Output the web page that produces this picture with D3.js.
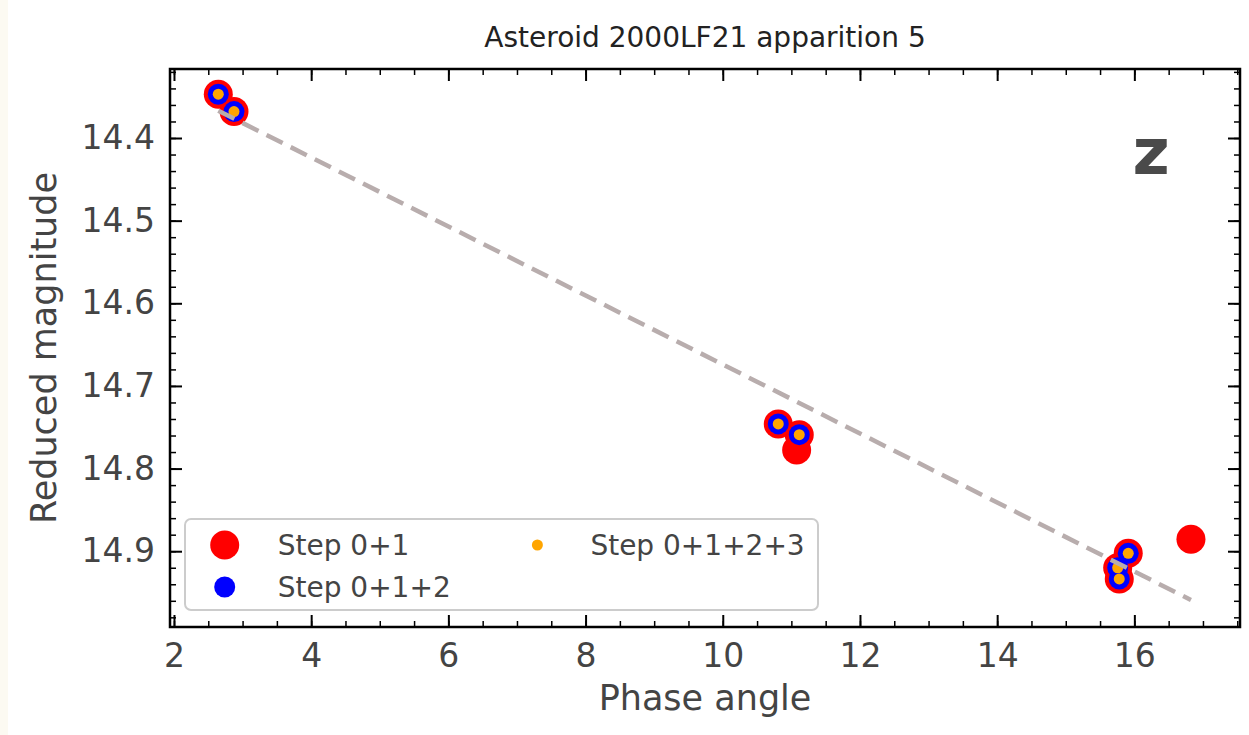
<!DOCTYPE html>
<html>
<head>
<meta charset="utf-8">
<script src="https://cdn.jsdelivr.net/npm/d3@7"></script>
<style>
  body { margin: 0; background: #fcfaf2; }
  text { font-family: "DejaVu Sans", sans-serif; }
</style>
</head>
<body>
<div id="viz"></div>
<script>
// data
var step01Phase = [2.646, 2.875, 10.809, 11.115, 11.077, 16.825, 15.911, 15.757, 15.780];
var step01Mag = [14.347, 14.368, 14.746, 14.759, 14.7775, 14.8856, 14.9026, 14.920, 14.9336];

var step012Phase = [2.646, 2.875, 10.809, 11.115, 15.911, 15.757, 15.780];
var step012Mag = [14.347, 14.368, 14.746, 14.759, 14.9026, 14.920, 14.9336];

var step0123Phase = [2.646, 2.875, 10.809, 11.115, 15.911, 15.757, 15.780];
var step0123Mag = [14.347, 14.368, 14.746, 14.759, 14.9026, 14.920, 14.9336];

var fitPhase = [2.646, 16.825];
var fitMag = [14.367, 14.959];

var xTicks = [2, 4, 6, 8, 10, 12, 14, 16];
var yTicks = [14.4, 14.5, 14.6, 14.7, 14.8, 14.9];

var legendNames = ["Step 0+1", "Step 0+1+2", "Step 0+1+2+3"];
var colors = ["#ff0000", "#0000ff", "#ffa500"];
var radii = [14.5, 10.5, 5.5];

var margin = { top: 69, left: 170 },
  width = 1070,
  height = 558;

var textColor = "#444444";

var svg = d3
  .select("#viz")
  .append("svg")
  .attr("width", 1249)
  .attr("height", 735);

svg.append("rect")
  .attr("x", 8).attr("y", 0)
  .attr("width", 1241).attr("height", 735)
  .attr("fill", "#ffffff");

var xScale = d3.scaleLinear().domain([1.942, 17.54]).range([0, width]);
var yScale = d3.scaleLinear().domain([14.3165, 14.9917]).range([0, height]);

var g = svg.append("g")
  .attr("transform", "translate(" + margin.left + "," + margin.top + ")");

// title
svg.append("text")
  .attr("x", margin.left + width / 2)
  .attr("y", 47)
  .attr("text-anchor", "middle")
  .attr("font-size", 28)
  .attr("fill", "#222")
  .text("Asteroid 2000LF21 apparition 5");

// axes, ticks pointing inwards on all four sides
var xMinor = d3.range(2, 17.6, 0.5);
var yMinor = d3.range(14.32, 14.99, 0.02);

var drawAxis = function (axis, transform, labels) {
  var a = g.append("g").attr("class", "axis").attr("transform", transform).call(axis);
  a.select(".domain").remove();
  a.selectAll("line").attr("stroke", "#000");
  a.selectAll("text")
    .attr("font-size", 33)
    .attr("fill", textColor)
    .attr("font-family", "DejaVu Sans, sans-serif");
  if (!labels) a.selectAll("text").remove();
  return a;
};

var bottomMajor = d3.axisBottom(xScale).tickValues(xTicks).tickSize(-12).tickPadding(17).tickFormat(d3.format("d"));
var topMajor = d3.axisTop(xScale).tickValues(xTicks).tickSize(-12).tickFormat("");
var bottomMinor = d3.axisBottom(xScale).tickValues(xMinor).tickSize(-6).tickFormat("");
var topMinor = d3.axisTop(xScale).tickValues(xMinor).tickSize(-6).tickFormat("");
var leftMajor = d3.axisLeft(yScale).tickValues(yTicks).tickSize(-12).tickPadding(15).tickFormat(d3.format(".1f"));
var rightMajor = d3.axisRight(yScale).tickValues(yTicks).tickSize(-12).tickFormat("");
var leftMinor = d3.axisLeft(yScale).tickValues(yMinor).tickSize(-6).tickFormat("");
var rightMinor = d3.axisRight(yScale).tickValues(yMinor).tickSize(-6).tickFormat("");

drawAxis(bottomMinor, "translate(0," + height + ")", false).selectAll("line").attr("stroke-width", 1.5);
drawAxis(topMinor, "translate(0,0)", false).selectAll("line").attr("stroke-width", 1.5);
drawAxis(leftMinor, "translate(0,0)", false).selectAll("line").attr("stroke-width", 1.5);
drawAxis(rightMinor, "translate(" + width + ",0)", false).selectAll("line").attr("stroke-width", 1.5);
drawAxis(bottomMajor, "translate(0," + height + ")", true).selectAll("line").attr("stroke-width", 2);
drawAxis(topMajor, "translate(0,0)", false).selectAll("line").attr("stroke-width", 2);
drawAxis(leftMajor, "translate(0,0)", true).selectAll("line").attr("stroke-width", 2);
drawAxis(rightMajor, "translate(" + width + ",0)", false).selectAll("line").attr("stroke-width", 2);

// axis labels
g.append("text")
  .attr("x", width / 2)
  .attr("y", height + 83)
  .attr("text-anchor", "middle")
  .attr("font-size", 35)
  .attr("fill", textColor)
  .text("Phase angle");

g.append("text")
  .attr("transform", "rotate(-90)")
  .attr("x", -height / 2)
  .attr("y", -114)
  .attr("text-anchor", "middle")
  .attr("font-size", 35)
  .attr("fill", textColor)
  .text("Reduced magnitude");

// points
var series = [
  d3.zip(step01Phase, step01Mag),
  d3.zip(step012Phase, step012Mag),
  d3.zip(step0123Phase, step0123Mag),
];

series.forEach(function (pts, i) {
  g.append("g")
    .selectAll("circle")
    .data(pts)
    .enter()
    .append("circle")
    .attr("cx", function (d) { return xScale(d[0]); })
    .attr("cy", function (d) { return yScale(d[1]); })
    .attr("r", radii[i])
    .attr("fill", colors[i]);
});

// fitted line on top of the markers
var line = d3.line()
  .x(function (d) { return xScale(d[0]); })
  .y(function (d) { return yScale(d[1]); });

g.append("path")
  .datum(d3.zip(fitPhase, fitMag))
  .attr("d", line)
  .attr("fill", "none")
  .attr("stroke", "#b8adad")
  .attr("stroke-width", 4.5)
  .attr("stroke-dasharray", "18,9");

// frame
g.append("rect")
  .attr("width", width)
  .attr("height", height)
  .attr("fill", "none")
  .attr("stroke", "#000")
  .attr("stroke-width", 2.5);

// legend
var legend = svg.append("g");
legend.append("rect")
  .attr("x", 185).attr("y", 519)
  .attr("width", 633).attr("height", 91)
  .attr("rx", 6)
  .attr("fill", "#fff").attr("fill-opacity", 0.8)
  .attr("stroke", "#cccccc").attr("stroke-width", 2);

var legendPos = [[224.7, 545], [224.7, 587], [537.4, 545]];
legendNames.forEach(function (name, i) {
  legend.append("circle")
    .attr("cx", legendPos[i][0])
    .attr("cy", legendPos[i][1])
    .attr("r", radii[i])
    .attr("fill", colors[i]);
  legend.append("text")
    .attr("x", legendPos[i][0] + 53)
    .attr("y", legendPos[i][1])
    .attr("dy", "0.35em")
    .attr("font-size", 28)
    .attr("fill", textColor)
    .text(name);
});

// band label
svg.append("text")
  .attr("x", 1151)
  .attr("y", 174)
  .attr("text-anchor", "middle")
  .attr("font-size", 64)
  .attr("font-weight", "bold")
  .attr("fill", "#4a4a4a")
  .text("z");
</script>
</body>
</html>
